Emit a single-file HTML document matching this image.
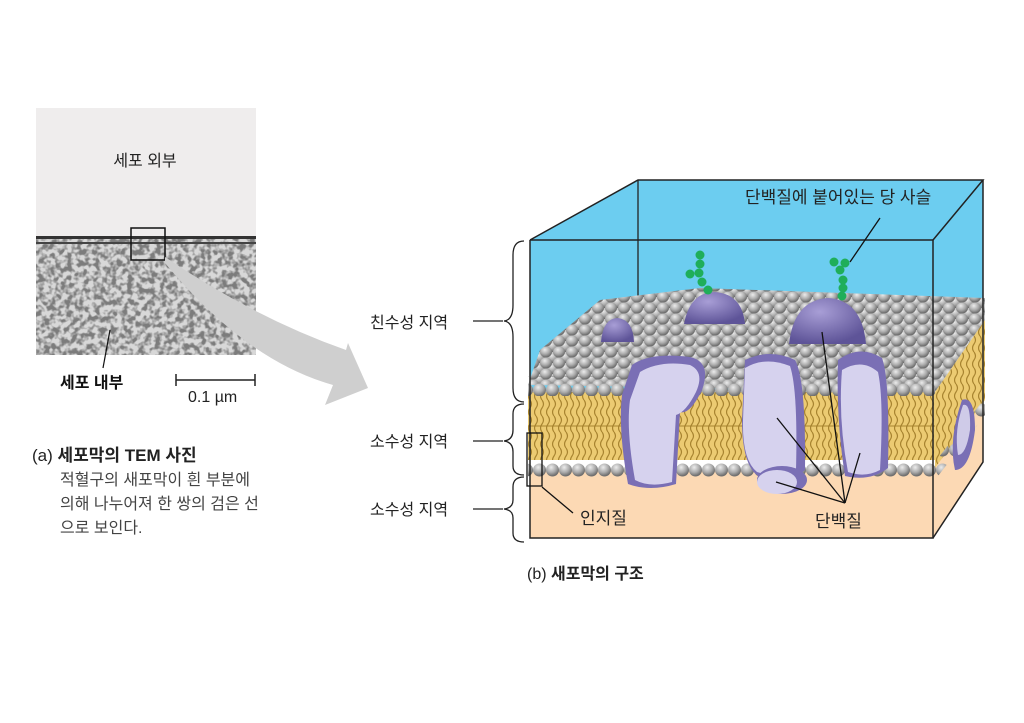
<!DOCTYPE html>
<html><head><meta charset="utf-8"><style>
html,body{margin:0;padding:0;background:#fff;}
svg{display:block;}
text{font-family:"Liberation Sans","Noto Sans CJK KR",sans-serif;}
</style></head><body>
<svg width="1024" height="723" viewBox="0 0 1024 723" xmlns="http://www.w3.org/2000/svg">
<defs>
<filter id="noise" x="0" y="0" width="100%" height="100%">
<feTurbulence type="fractalNoise" baseFrequency="0.18" numOctaves="2" seed="5"/>
<feColorMatrix type="matrix" values="0 0 0 0 0.2  0 0 0 0 0.2  0 0 0 0 0.2  -4 0 0 0 2.4"/>
</filter>
<radialGradient id="ball" cx="40%" cy="30%" r="65%">
<stop offset="0" stop-color="#ececec"/><stop offset="0.6" stop-color="#ababab"/><stop offset="1" stop-color="#707070"/>
</radialGradient>
<radialGradient id="dome" cx="40%" cy="30%" r="70%">
<stop offset="0" stop-color="#a89ed6"/><stop offset="1" stop-color="#5e5498"/>
</radialGradient>
<pattern id="heads" width="13" height="11" patternUnits="userSpaceOnUse">
<rect width="13" height="11" fill="#9a9a9a"/>
<ellipse cx="6.5" cy="5.5" rx="6" ry="5.5" fill="url(#ball)"/>
<ellipse cx="0" cy="0" rx="6" ry="5.5" fill="url(#ball)"/>
<ellipse cx="13" cy="0" rx="6" ry="5.5" fill="url(#ball)"/>
<ellipse cx="0" cy="11" rx="6" ry="5.5" fill="url(#ball)"/>
<ellipse cx="13" cy="11" rx="6" ry="5.5" fill="url(#ball)"/>
</pattern>
<pattern id="tails" width="6" height="16" patternUnits="userSpaceOnUse">
<rect width="6" height="16" fill="#eccb72"/>
<path d="M2,0 Q5,4 2,8 Q-1,12 2,16" stroke="#a88430" stroke-width="1.2" fill="none"/>
</pattern>
<pattern id="row" width="13" height="20" patternUnits="userSpaceOnUse">
<circle cx="6.5" cy="10" r="6.5" fill="url(#ball)"/>
</pattern>
</defs>

<!-- TEM photo -->
<rect x="36" y="108" width="220" height="130" fill="#efeded"/>
<rect x="36" y="238" width="220" height="117" fill="#d8d8d8"/>
<rect x="36" y="238" width="220" height="117" filter="url(#noise)"/>
<rect x="36" y="236" width="220" height="3" fill="#333"/>
<rect x="36" y="242" width="220" height="2" fill="#444"/>
<rect x="131" y="228" width="34" height="32" fill="none" stroke="#111" stroke-width="1.5"/>
<text x="145" y="166" font-size="16" fill="#222" text-anchor="middle">세포 외부</text>
<line x1="110" y1="330" x2="103" y2="368" stroke="#111" stroke-width="1.2"/>
<text x="60" y="388" font-size="16" font-weight="bold" fill="#111">세포 내부</text>
<line x1="176" y1="380" x2="255" y2="380" stroke="#222" stroke-width="1.5"/>
<line x1="176" y1="374" x2="176" y2="386" stroke="#222" stroke-width="1.5"/>
<line x1="255" y1="374" x2="255" y2="386" stroke="#222" stroke-width="1.5"/>
<text x="188" y="402" font-size="16" fill="#222">0.1 µm</text>

<!-- grey arrow -->
<path d="M165,257 Q255,318 346,350 L348,343 L368,388 L325,405 L333,385 Q245,360 165,263 Z" fill="#cfcfcf"/>

<text x="32" y="461" font-size="17" fill="#222"><tspan>(a) </tspan><tspan font-weight="bold">세포막의 TEM 사진</tspan></text>
<text x="60" y="485" font-size="16" fill="#444">적혈구의 새포막이 흰 부분에</text>
<text x="60" y="509" font-size="16" fill="#444">의해 나누어져 한 쌍의 검은 선</text>
<text x="60" y="533" font-size="16" fill="#444">으로 보인다.</text>

<!-- box -->
<polygon points="530,240 638,180 983,180 983,305 933,390 530,390" fill="#6ccdf0"/>
<polygon points="530,470 933,470 983,400 983,462 933,538 530,538" fill="#fcd9b4"/>
<line x1="638" y1="180" x2="638" y2="330" stroke="#222" stroke-width="1.3"/>

<!-- top surface of membrane -->
<polygon points="528,385 540,350 600,300 700,288 985,298 985,320 935,392" fill="url(#heads)"/>
<!-- right face -->
<polygon points="935,392 985,320 985,400 935,468" fill="url(#tails)"/>
<polygon points="935,462 985,398 985,415 935,480" fill="url(#row)"/>
<!-- front face -->
<rect x="528" y="392" width="407" height="68" fill="url(#tails)"/>
<line x1="528" y1="426" x2="935" y2="426" stroke="#a88430" stroke-width="1"/>
<rect x="528" y="376" width="407" height="20" fill="url(#row)"/>
<rect x="528" y="460" width="407" height="20" fill="url(#row)"/>

<!-- domes -->
<path d="M601,342 Q603,318 618,318 Q633,320 634,342 Z" fill="url(#dome)"/>
<path d="M684,324 Q690,292 715,292 Q742,294 745,324 Z" fill="url(#dome)"/>
<path d="M789,344 Q794,300 828,298 Q862,300 866,344 Z" fill="url(#dome)"/>
<!-- sugar chains -->
<g fill="#1fae5a">
<circle cx="700" cy="255" r="4.5"/><circle cx="700" cy="264" r="4.5"/><circle cx="699" cy="273" r="4.5"/>
<circle cx="690" cy="274" r="4.5"/><circle cx="702" cy="282" r="4.5"/><circle cx="708" cy="290" r="4.5"/>
<circle cx="834" cy="262" r="4.5"/><circle cx="845" cy="263" r="4.5"/><circle cx="840" cy="270" r="4.5"/>
<circle cx="843" cy="280" r="4.5"/><circle cx="843" cy="288" r="4.5"/><circle cx="842" cy="296" r="4.5"/>
</g>

<!-- transmembrane proteins -->
<path d="M632,365 Q650,352 690,357 Q712,362 702,390 Q690,415 680,412 L676,484 Q650,492 628,484 Q618,430 622,395 Z" fill="#7a6fb5"/>
<path d="M640,372 Q660,360 690,365 Q705,372 696,392 Q686,412 676,415 L672,482 Q650,488 635,480 Q626,430 630,400 Z" fill="#d6d2ee"/>
<path d="M745,360 Q770,348 795,360 Q806,380 805,470 Q790,484 762,478 Q742,470 742,420 Z" fill="#7a6fb5"/>
<path d="M745,368 Q765,356 790,366 Q798,390 796,470 Q775,478 757,472 Q742,460 743,420 Z" fill="#d6d2ee"/>
<ellipse cx="782" cy="480" rx="25" ry="14" fill="#7a6fb5"/>
<ellipse cx="777" cy="482" rx="20" ry="12" fill="#d6d2ee"/>
<path d="M838,360 Q860,344 882,358 Q890,380 888,468 Q870,482 845,476 Q836,420 838,360 Z" fill="#7a6fb5"/>
<path d="M842,370 Q862,358 878,372 Q884,400 880,470 Q865,478 848,472 Q838,420 842,370 Z" fill="#d6d2ee"/>
<path d="M962,400 Q975,395 975,430 Q970,470 955,470 Q948,440 962,400 Z" fill="#7a6fb5"/>
<path d="M963,405 Q971,402 970,430 Q966,455 958,455 Q954,430 963,405 Z" fill="#cfcbe8"/>

<!-- box edges -->
<polyline points="530,240 933,240 933,538 530,538 530,240" fill="none" stroke="#222" stroke-width="1.5"/>
<polyline points="530,240 638,180 983,180 933,240" fill="none" stroke="#222" stroke-width="1.5"/>
<polyline points="983,180 983,462 933,538" fill="none" stroke="#222" stroke-width="1.5"/>

<!-- labels -->
<text x="745" y="203" font-size="17" fill="#222">단백질에 붙어있는 당 사슬</text>
<line x1="880" y1="218" x2="850" y2="262" stroke="#111" stroke-width="1.3"/>
<rect x="527" y="433" width="15" height="53" fill="none" stroke="#111" stroke-width="1.3"/>
<line x1="542" y1="487" x2="573" y2="513" stroke="#111" stroke-width="1.3"/>
<text x="580" y="524" font-size="17" fill="#222">인지질</text>
<g stroke="#111" stroke-width="1.3">
<line x1="845" y1="503" x2="822" y2="332"/>
<line x1="845" y1="503" x2="777" y2="418"/>
<line x1="845" y1="503" x2="860" y2="453"/>
<line x1="845" y1="503" x2="776" y2="482"/>
</g>
<text x="815" y="527" font-size="17" fill="#222">단백질</text>
<text x="527" y="579" font-size="16" fill="#222"><tspan>(b) </tspan><tspan font-weight="bold">새포막의 구조</tspan></text>

<!-- brackets -->
<g fill="none" stroke="#222" stroke-width="1.3">
<path d="M524,241 Q513,241 513,255 L513,305 Q513,320 504,321 Q513,322 513,337 L513,388 Q513,402 524,402"/>
<path d="M524,404 Q513,404 513,414 L513,430 Q513,440 504,441 Q513,442 513,452 L513,466 Q513,475 524,475"/>
<path d="M524,477 Q513,477 513,487 L513,500 Q513,508 504,509 Q513,510 513,518 L513,533 Q513,542 524,542"/>
<line x1="473" y1="321" x2="503" y2="321"/>
<line x1="473" y1="441" x2="503" y2="441"/>
<line x1="473" y1="509" x2="503" y2="509"/>
</g>
<text x="370" y="328" font-size="16" fill="#222">친수성 지역</text>
<text x="370" y="447" font-size="16" fill="#222">소수성 지역</text>
<text x="370" y="515" font-size="16" fill="#222">소수성 지역</text>
</svg>
</body></html>
